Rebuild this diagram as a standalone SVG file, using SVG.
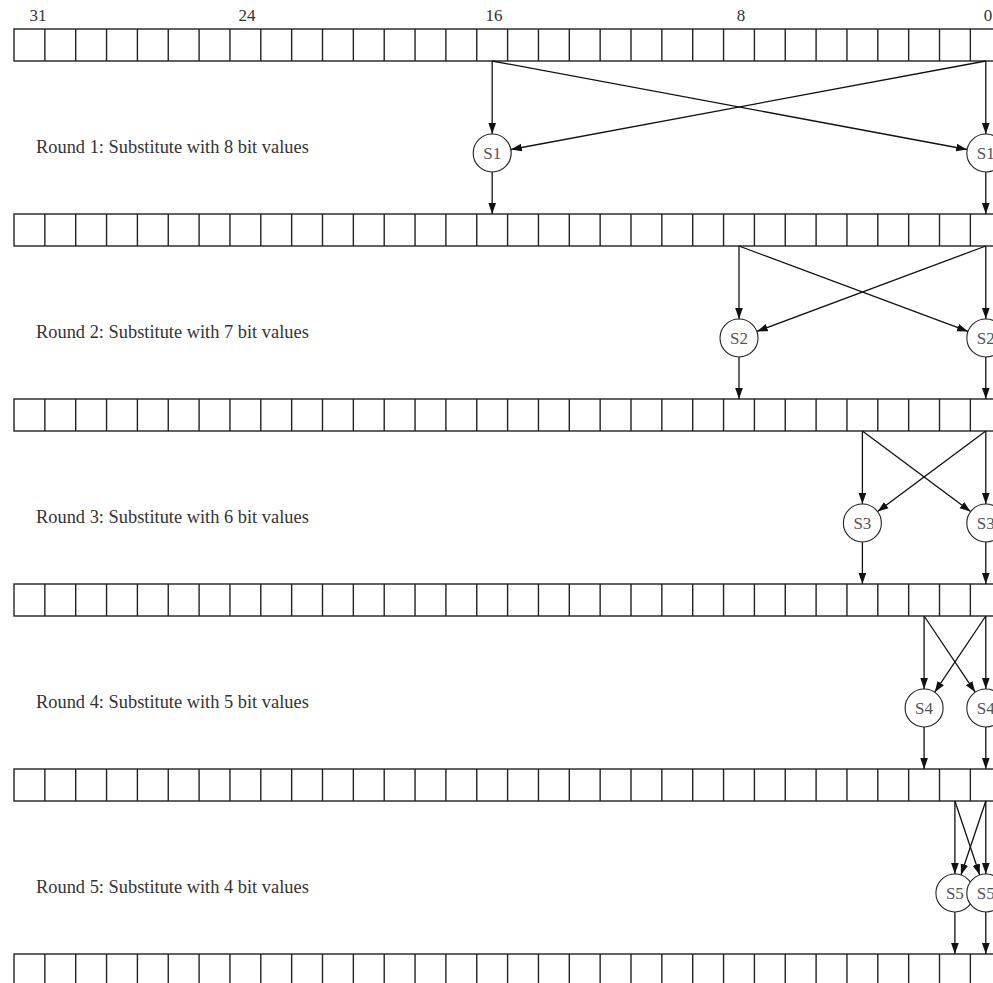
<svg xmlns="http://www.w3.org/2000/svg" xmlns:xlink="http://www.w3.org/1999/xlink" width="993" height="983" viewBox="0 0 993 983">
<style>
.cell{fill:none;stroke:#222;stroke-width:1.4}
.node circle{fill:#fff;stroke:#222;stroke-width:1.1}
.node text{font-family:"Liberation Serif","Times New Roman",serif;font-size:17px;fill:#555;text-anchor:middle}
.lbl{font-family:"Liberation Serif","Times New Roman",serif;font-size:18.4px;fill:#333}
.num{font-family:"Liberation Serif","Times New Roman",serif;font-size:17px;fill:#333;text-anchor:middle}
.edge{fill:none;stroke:#111;stroke-width:1.3;marker-end:url(#ah)}
</style>
<defs>
<marker id="ah" markerUnits="userSpaceOnUse" markerWidth="12" markerHeight="10" viewBox="0 -4 11 8" refX="10" refY="0" orient="auto">
<path d="M0,-3.5L10,0L0,3.5z" fill="#111"/>
</marker>
<g id="row">
<rect class="cell" x="0" y="0" width="987.2" height="32"/>
<path class="cell" d="M30.85,0v32M61.7,0v32M92.55,0v32M123.4,0v32M154.25,0v32M185.1,0v32M215.95,0v32M246.8,0v32M277.65,0v32M308.5,0v32M339.35,0v32M370.2,0v32M401.05,0v32M431.9,0v32M462.75,0v32M493.6,0v32M524.45,0v32M555.3,0v32M586.15,0v32M617,0v32M647.85,0v32M678.7,0v32M709.55,0v32M740.4,0v32M771.25,0v32M802.1,0v32M832.95,0v32M863.8,0v32M894.65,0v32M925.5,0v32M956.35,0v32"/>
</g>
</defs>
<rect width="993" height="983" fill="#fff"/>
<g id="bit-labels">
<text class="num" x="38" y="21">31</text>
<text class="num" x="247" y="21">24</text>
<text class="num" x="494" y="21">16</text>
<text class="num" x="741" y="21">8</text>
<text class="num" x="988" y="21">0</text>
</g>
<g id="row1"><use xlink:href="#row" x="14" y="29"/></g>
<g id="row2"><use xlink:href="#row" x="14" y="214"/></g>
<g id="row3"><use xlink:href="#row" x="14" y="399"/></g>
<g id="row4"><use xlink:href="#row" x="14" y="584"/></g>
<g id="row5"><use xlink:href="#row" x="14" y="769"/></g>
<g id="row6"><use xlink:href="#row" x="14" y="954"/></g>
<g id="round-labels">
<text class="lbl" x="36" y="153">Round 1: Substitute with 8 bit values</text>
<text class="lbl" x="36" y="338">Round 2: Substitute with 7 bit values</text>
<text class="lbl" x="36" y="523">Round 3: Substitute with 6 bit values</text>
<text class="lbl" x="36" y="708">Round 4: Substitute with 5 bit values</text>
<text class="lbl" x="36" y="893">Round 5: Substitute with 4 bit values</text>
</g>
<g id="connectors">
<path class="edge" d="M492.2,61V134"/>
<path class="edge" d="M985.8,61V134"/>
<path class="edge" d="M492.2,61L967.1,149.5"/>
<path class="edge" d="M985.8,61L510.9,149.5"/>
<path class="edge" d="M492.2,172V214"/>
<path class="edge" d="M985.8,172V214"/>
<path class="edge" d="M739,246V319"/>
<path class="edge" d="M985.8,246V319"/>
<path class="edge" d="M739,246L968,331.4"/>
<path class="edge" d="M985.8,246L756.8,331.4"/>
<path class="edge" d="M739,357V399"/>
<path class="edge" d="M985.8,357V399"/>
<path class="edge" d="M862.4,431V504"/>
<path class="edge" d="M985.8,431V504"/>
<path class="edge" d="M862.4,431L970.6,511.6"/>
<path class="edge" d="M985.8,431L877.6,511.6"/>
<path class="edge" d="M862.4,542V584"/>
<path class="edge" d="M985.8,542V584"/>
<path class="edge" d="M924.1,616V689"/>
<path class="edge" d="M985.8,616V689"/>
<path class="edge" d="M924.1,616L975.2,692.2"/>
<path class="edge" d="M985.8,616L934.7,692.2"/>
<path class="edge" d="M924.1,727V769"/>
<path class="edge" d="M985.8,727V769"/>
<path class="edge" d="M954.9,801V874"/>
<path class="edge" d="M985.8,801V874"/>
<path class="edge" d="M954.9,801L979.75,875"/>
<path class="edge" d="M985.8,801L960.95,875"/>
<path class="edge" d="M954.9,912V954"/>
<path class="edge" d="M985.8,912V954"/>
</g>
<g id="s1a" class="node"><circle cx="492.2" cy="153" r="19"/><text x="492.2" y="158.5">S1</text></g>
<g id="s1b" class="node"><circle cx="985.8" cy="153" r="19"/><text x="985.8" y="158.5">S1</text></g>
<g id="s2a" class="node"><circle cx="739" cy="338" r="19"/><text x="739" y="343.5">S2</text></g>
<g id="s2b" class="node"><circle cx="985.8" cy="338" r="19"/><text x="985.8" y="343.5">S2</text></g>
<g id="s3a" class="node"><circle cx="862.4" cy="523" r="19"/><text x="862.4" y="528.5">S3</text></g>
<g id="s3b" class="node"><circle cx="985.8" cy="523" r="19"/><text x="985.8" y="528.5">S3</text></g>
<g id="s4a" class="node"><circle cx="924.1" cy="708" r="19"/><text x="924.1" y="713.5">S4</text></g>
<g id="s4b" class="node"><circle cx="985.8" cy="708" r="19"/><text x="985.8" y="713.5">S4</text></g>
<g id="s5a" class="node"><circle cx="954.9" cy="893" r="19"/><text x="954.9" y="898.5">S5</text></g>
<g id="s5b" class="node"><circle cx="985.8" cy="893" r="19"/><text x="985.8" y="898.5">S5</text></g>
</svg>
